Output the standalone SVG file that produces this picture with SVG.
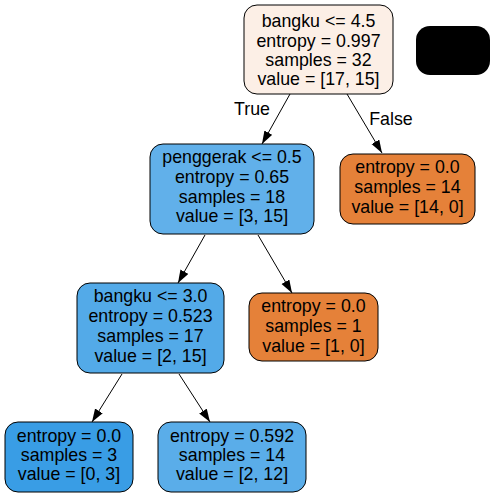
<svg xmlns="http://www.w3.org/2000/svg" width="495" height="497" viewBox="0 0 495 497">
<defs>
<marker id="ah" markerUnits="userSpaceOnUse" markerWidth="14" markerHeight="10" refX="13" refY="4.5" orient="auto">
<path d="M0,0 L13,4.5 L0,9 z" fill="#000"/>
</marker>
<style>
.n{stroke:#000;stroke-width:1}
text{font-family:"Liberation Sans",Arial,sans-serif;font-size:17.8px;fill:#000;text-anchor:middle}
.e{stroke:#000;stroke-width:1;fill:none;marker-end:url(#ah)}
</style>
</defs>
<rect width="495" height="497" fill="#fff"/>
<g id="edges">
<line class="e" x1="290" y1="94" x2="262" y2="144"/>
<line class="e" x1="347" y1="94" x2="382" y2="153"/>
<line class="e" x1="205" y1="235" x2="178" y2="283"/>
<line class="e" x1="258" y1="235" x2="292" y2="293"/>
<line class="e" x1="122" y1="374" x2="92" y2="422"/>
<line class="e" x1="179" y1="374" x2="210" y2="422"/>
<text x="252" y="115">True</text>
<text x="391" y="125">False</text>
</g>
<g id="node0">
<rect class="n" x="244" y="5" width="149" height="89" rx="13" fill="#fcefe6"/>
<text x="318.5" y="27">bangku &lt;= 4.5</text>
<text x="318.5" y="47">entropy = 0.997</text>
<text x="318.5" y="66">samples = 32</text>
<text x="318.5" y="85">value = [17, 15]</text>
</g>
<g id="legend">
<rect x="416" y="26" width="74" height="49" rx="14" fill="#000"/>
</g>
<g id="node1">
<rect class="n" x="150" y="144" width="164" height="90" rx="13" fill="#61b0ea"/>
<text x="232" y="163">penggerak &lt;= 0.5</text>
<text x="232" y="183">entropy = 0.65</text>
<text x="232" y="203">samples = 18</text>
<text x="232" y="222">value = [3, 15]</text>
</g>
<g id="node2">
<rect class="n" x="340" y="154" width="135" height="70" rx="13" fill="#e58139"/>
<text x="407.5" y="173">entropy = 0.0</text>
<text x="407.5" y="193">samples = 14</text>
<text x="407.5" y="213">value = [14, 0]</text>
</g>
<g id="node3">
<rect class="n" x="77" y="283" width="147" height="90" rx="13" fill="#53aae8"/>
<text x="150.5" y="302">bangku &lt;= 3.0</text>
<text x="150.5" y="322">entropy = 0.523</text>
<text x="150.5" y="342">samples = 17</text>
<text x="150.5" y="362">value = [2, 15]</text>
</g>
<g id="node4">
<rect class="n" x="249" y="293" width="129" height="68" rx="13" fill="#e58139"/>
<text x="313.5" y="312">entropy = 0.0</text>
<text x="313.5" y="332">samples = 1</text>
<text x="313.5" y="352">value = [1, 0]</text>
</g>
<g id="node5">
<rect class="n" x="5" y="422" width="128" height="70" rx="13" fill="#399de5"/>
<text x="69" y="442">entropy = 0.0</text>
<text x="69" y="461">samples = 3</text>
<text x="69" y="480">value = [0, 3]</text>
</g>
<g id="node6">
<rect class="n" x="158" y="422" width="148" height="70" rx="13" fill="#5aade9"/>
<text x="232" y="442">entropy = 0.592</text>
<text x="232" y="461">samples = 14</text>
<text x="232" y="480">value = [2, 12]</text>
</g>
</svg>
